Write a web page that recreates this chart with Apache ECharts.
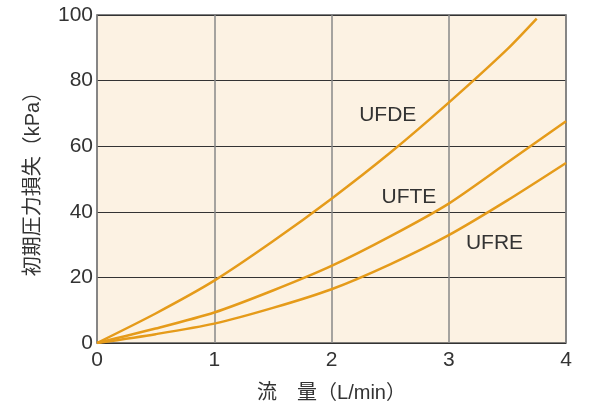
<!DOCTYPE html>
<html><head><meta charset="utf-8">
<script src="https://cdn.jsdelivr.net/npm/echarts@6/dist/echarts.min.js"></script>
<style>html,body{margin:0;padding:0;background:#fff}#c{width:591px;height:408px}</style>
</head><body><div id="c"></div>
<script>
const xTicks = [0, 1, 2, 3, 4];
const yTicks = [0, 20, 40, 60, 80, 100];
const ufdeX = [0, 0.5, 1, 1.5, 2, 2.5, 3, 3.5, 3.75];
const ufdeY = [0, 9, 19, 31, 44, 58, 73.3, 89.6, 98.9];
const ufteX = [0, 0.5, 1, 1.5, 2, 2.5, 3, 3.5, 4];
const ufteY = [0, 4.4, 9.3, 16, 23.5, 32.5, 42.5, 55, 67.6];
const ufreX = [0, 0.5, 1, 1.5, 2, 2.5, 3, 3.5, 4];
const ufreY = [0, 2.7, 5.9, 10.7, 16.4, 24, 32.9, 43.5, 54.9];
const seriesNames = ['UFDE', 'UFTE', 'UFRE'];
const labelPos = [[2.48, 69.5], [2.66, 44.3], [3.39, 30.5]];
const xName = '流　量（L/min）';
const yName = '初期圧力損失（kPa）';

const zip = (xs, ys) => xs.map((x, i) => [x, ys[i]]);
const color = '#E59B1A';
const font = '"Liberation Sans", Arial, "Noto Sans CJK JP", sans-serif';
const chart = echarts.init(document.getElementById('c'));
const dataSets = [zip(ufdeX, ufdeY), zip(ufteX, ufteY), zip(ufreX, ufreY)];
const series = dataSets.map((d, i) => ({
  name: seriesNames[i], type: 'line', data: d, smooth: 0.25, symbol: 'none',
  lineStyle: { color: color, width: 2.5 }, z: 5,
  markPoint: {
    symbol: 'circle', symbolSize: 0,
    data: [{ coord: labelPos[i], value: seriesNames[i] }],
    label: { show: true, formatter: seriesNames[i], color: '#333', fontSize: 21, fontFamily: font, position: 'inside' }
  }
}));
chart.setOption({
  animation: false,
  grid: { left: 97, top: 15, width: 469, height: 328, show: true, backgroundColor: '#FCF2E3', borderColor: '#555', borderWidth: 1.5 },
  xAxis: {
    type: 'value', min: 0, max: 4, interval: 1,
    name: xName, nameLocation: 'middle', nameGap: 40,
    nameTextStyle: { fontSize: 20, color: '#333', fontFamily: font },
    axisLine: { show: false }, axisTick: { show: false },
    axisLabel: { fontSize: 21, color: '#333', fontFamily: font, margin: 7 },
    splitLine: { show: true, lineStyle: { color: '#888', width: 1.5 } }
  },
  yAxis: {
    type: 'value', min: 0, max: 100, interval: 20,
    name: yName, nameLocation: 'middle', nameGap: 54, nameRotate: 90,
    nameTextStyle: { fontSize: 20, color: '#333', fontFamily: font },
    axisLine: { show: false }, axisTick: { show: false },
    axisLabel: { fontSize: 21, color: '#333', fontFamily: font, margin: 4 },
    splitLine: { show: true, lineStyle: { color: '#333', width: 1.2 } }
  },
  series: series
});
</script></body></html>
